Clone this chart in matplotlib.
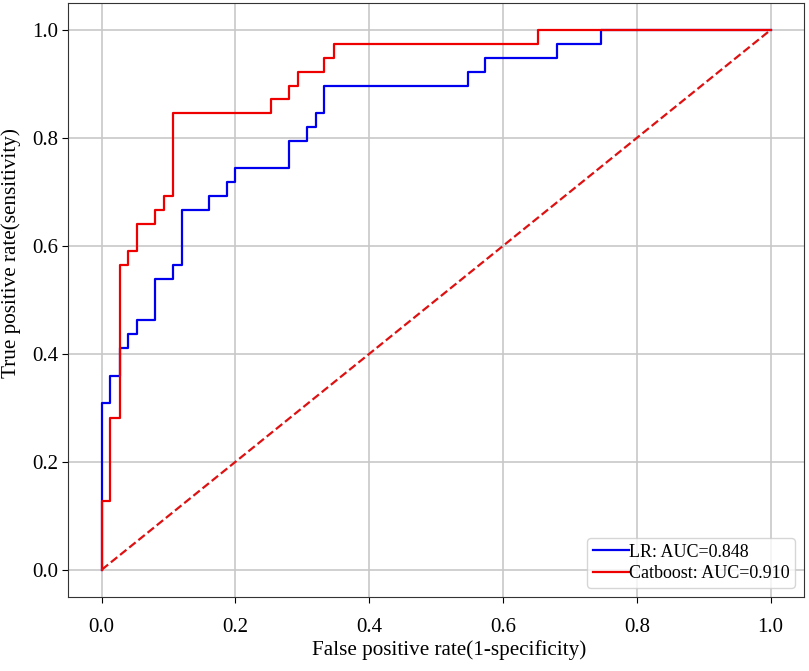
import numpy as np
import matplotlib.pyplot as plt

plt.rcParams['font.family'] = ['Liberation Serif', 'DejaVu Serif']

# puntos ROC (esquinas de la escalera)
fpr_lr = [0.0, 0.0, 0.013, 0.013, 0.027, 0.027, 0.040, 0.040, 0.053, 0.053,
          0.080, 0.080, 0.107, 0.107, 0.120, 0.120, 0.160, 0.160, 0.187, 0.187,
          0.200, 0.200, 0.280, 0.280, 0.307, 0.307, 0.320, 0.320, 0.333, 0.333,
          0.547, 0.547, 0.573, 0.573, 0.680, 0.680, 0.747, 0.747, 1.0]
tpr_lr = [0.0, 0.308, 0.308, 0.359, 0.359, 0.410, 0.410, 0.436, 0.436, 0.462,
          0.462, 0.538, 0.538, 0.564, 0.564, 0.667, 0.667, 0.692, 0.692, 0.718,
          0.718, 0.744, 0.744, 0.795, 0.795, 0.821, 0.821, 0.846, 0.846, 0.897,
          0.897, 0.923, 0.923, 0.949, 0.949, 0.974, 0.974, 1.0, 1.0]

fpr_cb = [0.0, 0.0, 0.013, 0.013, 0.027, 0.027, 0.040, 0.040, 0.053, 0.053,
          0.080, 0.080, 0.093, 0.093, 0.107, 0.107, 0.253, 0.253, 0.280, 0.280,
          0.293, 0.293, 0.333, 0.333, 0.347, 0.347, 0.653, 0.653, 1.0]
tpr_cb = [0.0, 0.128, 0.128, 0.282, 0.282, 0.564, 0.564, 0.590, 0.590, 0.641,
          0.641, 0.667, 0.667, 0.692, 0.692, 0.846, 0.846, 0.872, 0.872, 0.897,
          0.897, 0.923, 0.923, 0.949, 0.949, 0.974, 0.974, 1.0, 1.0]

auc_lr = 0.848
auc_cb = 0.910

fig = plt.figure(figsize=(8.09, 6.71), dpi=100)
ax = fig.add_axes([0.0844, 0.1107, 0.9094, 0.8848])

ax.plot(fpr_lr, tpr_lr, color='#0000ee', lw=1.6, label=f'LR: AUC={auc_lr:.3f}')
ax.plot(fpr_cb, tpr_cb, color='#ee0000', lw=1.6, label=f'Catboost: AUC={auc_cb:.3f}')
ax.plot([0, 1], [0, 1], color='#dd1111', lw=1.6, ls='--')

ax.set_xlim(-0.05, 1.05)
ax.set_ylim(-0.05, 1.05)
ax.set_xticks(np.arange(0, 1.01, 0.2))
ax.set_yticks(np.arange(0, 1.01, 0.2))
ax.tick_params(labelsize=15, length=4, pad=11)
ax.tick_params(axis='y', pad=3)
ax.grid(True, color='#c8c8c8', lw=1.2)
ax.set_axisbelow(True)
for s in ax.spines.values():
    s.set_color('#333333')

ax.set_xlabel('False positive rate(1-specificity)', fontsize=15.2)
ax.set_ylabel('True positive rate(sensitivity)', fontsize=15.2)
ax.xaxis.set_label_coords(0.5175, -0.073)
ax.yaxis.set_label_coords(-0.064, 0.579)

ax.legend(loc='lower right', fontsize=13, handlelength=2.0, handletextpad=0.0,
          borderpad=0.3, labelspacing=0.25, borderaxespad=0.5)

plt.savefig('out.png', dpi=100)
